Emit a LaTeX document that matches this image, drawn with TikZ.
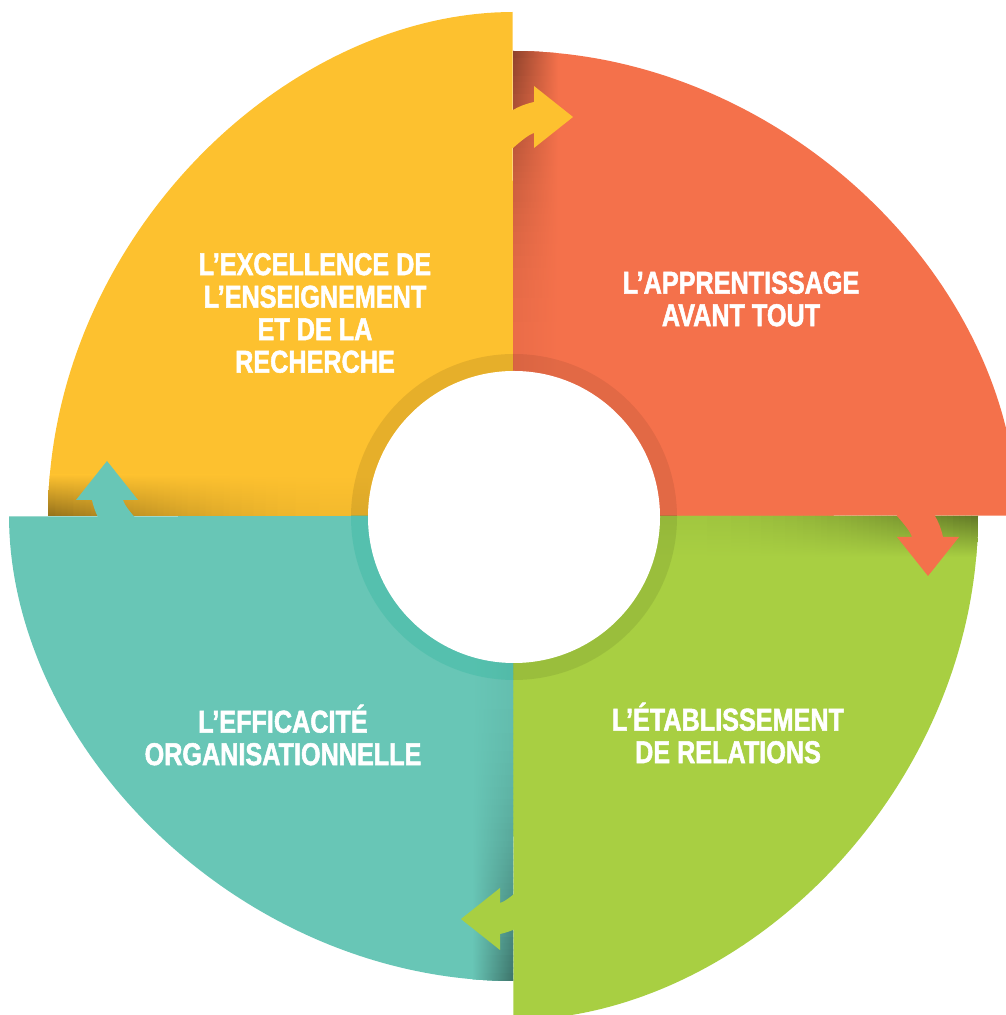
\documentclass[tikz,border=0pt]{standalone}
\usepackage{fontspec}
\setmainfont[FakeStretch=0.80,FakeBold=1.6]{Liberation Sans}
\definecolor{cy}{HTML}{FDC12F}
\definecolor{co}{HTML}{F4714B}
\definecolor{cg}{HTML}{A8CF42}
\definecolor{ct}{HTML}{68C6B6}
\definecolor{ctring}{HTML}{2BB59C}
\newcommand\fillsector[2]{\fill[#2] (513,499) -- plot[domain=0:1,samples=90,variable=\x] ({513+sr(\x)*cos(#1-90*\x)},{499+sr(\x)*sin(#1-90*\x)}) -- cycle;}
\newcommand\clipsector[1]{\clip (513,499) -- plot[domain=0:1,samples=90,variable=\x] ({513+sr(\x)*cos(#1-90*\x)},{499+sr(\x)*sin(#1-90*\x)}) -- cycle;}
\newcommand\ringarrow[4]{%
  \begin{scope}[shift={(513,499)},rotate=#2,shift={(#4,#3)}]
    \fill[#1] (-8,368) -- (0,368) .. controls (8,375) and (15,381) .. (21,383) -- (21,368) -- (60,399) -- (21,430) -- (21,414) .. controls (12,412) and (5,409) .. (0,406) -- (-8,406) -- cycle;
  \end{scope}}
\begin{document}
\begin{tikzpicture}[x=1pt,y=1pt,
  declare function={sr(\x)=465+39*(0.5*\x*\x*\x*(4-3*\x)+0.5*\x*\x*\x*\x*(5-4*\x));
                    shd(\x)=100-(3+40*(\x/55)*(\x/55));},
  lbl/.style={text=white, font=\bfseries\fontsize{31.5}{32.5}\selectfont, align=center, inner sep=0pt}]
\useasboundingbox (0,0) rectangle (1006,1015);
\clip (0,0) rectangle (1006,1015);
% sectors
\fillsector{180}{cy}
\fillsector{90}{co}
\fillsector{0}{cg}
\fillsector{-90}{ct}
% shadows
\begin{scope}
  \clipsector{90}
  \foreach \i in {0,...,55}{
    \pgfmathtruncatemacro\k{shd(\i)}
    \shade[left color=co!\k!black, right color=co] (513,{639+\i*6}) rectangle (558,{645.6+\i*6});
  }
\end{scope}
\begin{scope}
  \clipsector{0}
  \foreach \i in {0,...,55}{
    \pgfmathtruncatemacro\k{shd(\i)}
    \shade[top color=cg!\k!black, bottom color=cg] ({653+\i*6},458) rectangle ({659.6+\i*6},499);
  }
\end{scope}
\begin{scope}
  \clipsector{-90}
  \foreach \i in {0,...,55}{
    \pgfmathtruncatemacro\k{shd(\i)}
    \shade[left color=ct, right color=ct!\k!black] (472,{359-\i*6}) rectangle (513,{352.4-\i*6});
  }
\end{scope}
\begin{scope}
  \clipsector{180}
  \foreach \i in {0,...,55}{
    \pgfmathtruncatemacro\k{shd(\i)}
    \shade[top color=cy, bottom color=cy!\k!black] ({373-\i*6},499) rectangle ({366.4-\i*6},540);
  }
\end{scope}
% arrows
\ringarrow{cy}{0}{0}{0}
\ringarrow{co}{-90}{16}{0}
\ringarrow{cg}{180}{4}{-8}
\ringarrow{ct}{90}{7}{-5}
% ring
\begin{scope}
  \clip (513,499) rectangle (700,700);
  \fill[black,opacity=0.07,even odd rule] (514,498) circle[radius=163] circle[radius=146];
\end{scope}
\begin{scope}
  \clip (513,499) rectangle (300,700);
  \fill[black,opacity=0.09,even odd rule] (514,498) circle[radius=163] circle[radius=146];
\end{scope}
\begin{scope}
  \clip (513,499) rectangle (700,300);
  \fill[black,opacity=0.08,even odd rule] (514,498) circle[radius=163] circle[radius=146];
\end{scope}
\begin{scope}
  \clip (513,499) rectangle (300,300);
  \fill[ctring,opacity=0.3,even odd rule] (514,498) circle[radius=163] circle[radius=146];
\end{scope}
\fill[white] (514,498) circle[radius=146];
% labels
\node[lbl] (ly) at (315,702) {L’EXCELLENCE DE\\L’ENSEIGNEMENT\\ET DE LA\\RECHERCHE};
\node[lbl] (lo) at (741,716) {L’APPRENTISSAGE\\AVANT TOUT};
\node[lbl] (lt) at (283,280) {L’EFFICACITÉ\\ORGANISATIONNELLE};
\node[lbl] (lg) at (728,282) {L’ÉTABLISSEMENT\\DE RELATIONS};
\end{tikzpicture}
\end{document}
